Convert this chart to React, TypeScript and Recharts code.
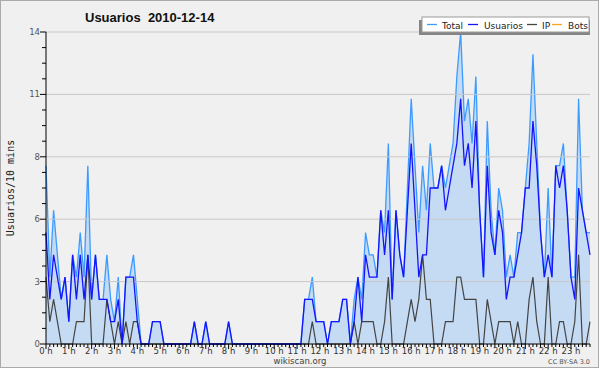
import React from 'react';
import { ComposedChart, Area, Line, XAxis, YAxis, ReferenceLine } from 'recharts';

const hourLabels = ['0 h','1 h','2 h','3 h','4 h','5 h','6 h','7 h','8 h','9 h','10 h','11 h','12 h','13 h','14 h','15 h','16 h','17 h','18 h','19 h','20 h','21 h','22 h','23 h'];

const total = [
  8,3,6,4,2,3,1,4,3,5,3,8,2,4,2,2,4,2,1,3,0,3,3,4,2,0,0,0,1,1,1,0,0,0,0,0,0,0,0,1,0,0,1,0,0,0,0,0,1,0,
  0,0,0,0,0,0,0,0,0,0,0,0,0,0,0,0,0,0,2,2,3,1,1,1,0,1,1,1,2,2,0,2,3,2,5,4,4,3,6,5,9,2,6,4,3,7,11,8,5,8,
  6,9,7,7,8,7,8,9,12,14,10,11,9,12,6,3,10,6,4,7,6,3,4,3,5,5,7,9,13,9,5,3,7,3,8,8,9,6,3,3,11,6,5,5
];
const usuarios = [
  5,2,4,3,2,3,1,4,2,4,2,4,2,4,2,2,2,1,1,2,0,3,3,3,1,0,0,0,1,1,1,0,0,0,0,0,0,0,0,1,0,0,1,0,0,0,0,0,1,0,
  0,0,0,0,0,0,0,0,0,0,0,0,0,0,0,0,0,0,2,2,2,1,1,1,0,1,1,1,2,2,0,1,3,1,4,3,3,3,6,4,6,2,6,4,3,6,9,6,3,4,
  4,7,7,7,8,6,7,8,9,11,8,9,7,10,6,3,8,5,4,6,5,2,3,3,4,5,7,7,10,8,5,3,4,3,8,7,8,6,3,2,7,6,5,4
];
const ip = [
  3,1,2,1,0,0,0,0,1,1,1,4,0,0,0,0,2,1,0,1,0,1,0,1,1,0,0,0,0,0,0,0,0,0,0,0,0,0,0,0,0,0,0,0,0,0,0,0,0,0,
  0,0,0,0,0,0,0,0,0,0,0,0,0,0,0,0,0,0,0,0,1,0,0,0,0,0,0,0,0,0,0,1,0,1,1,1,1,0,0,1,3,0,0,0,0,1,2,1,2,4,
  2,2,0,0,0,1,1,1,3,3,2,2,2,2,0,0,2,1,0,1,1,1,1,0,1,0,0,2,3,1,0,0,3,0,0,1,1,0,0,1,4,0,0,1
];

const yMajorTicks = [0, 2.8, 5.6, 8.4, 11.2, 14];
const yTicks = [0,0.7,1.4,2.1,2.8,3.5,4.2,4.9,5.6,6.3,7,7.7,8.4,9.1,9.8,10.5,11.2,11.9,12.6,13.3,14];

const series = [
  { key: 'total', name: 'Total', color: '#3d9bff' },
  { key: 'usuarios', name: 'Usuarios', color: '#1414ff' },
  { key: 'ip', name: 'IP', color: '#444444' },
  { key: 'bots', name: 'Bots', color: '#ffa31a' },
];

const data = total.map((t, i) => ({ i, total: t, usuarios: usuarios[i], ip: ip[i] }));
const xTicks = total.map((_, i) => i);

const FONT = 'DejaVu Sans, Verdana, sans-serif';

const YTick = (props: any) => {
  const { x, y, payload } = props;
  const major = yMajorTicks.includes(payload.value);
  return (
    <g>
      <line x1={x - (major ? 6 : 4)} x2={x} y1={y} y2={y} stroke="#000" strokeWidth={1} />
      {major && (
        <text x={x - 6} y={y} dy={3} textAnchor="end" fontSize={8.5} fill="#555" fontFamily={FONT}>
          {Math.round(payload.value)}
        </text>
      )}
    </g>
  );
};

const XTick = (props: any) => {
  const { x, y, payload } = props;
  const major = payload.value % 6 === 0;
  return (
    <g>
      <line x1={x} x2={x} y1={y} y2={y + (major ? 5 : 3)} stroke="#000" strokeWidth={1} />
      {major && (
        <text x={x} y={y + 10} textAnchor="middle" fontSize={8.5} fill="#333" fontFamily={FONT}>
          {hourLabels[payload.value / 6]}
        </text>
      )}
    </g>
  );
};

const legendPos = [
  { lx: 427, tx: 442 },
  { lx: 468, tx: 484 },
  { lx: 527, tx: 542 },
  { lx: 552, tx: 568 },
];

export default function App() {
  return (
    <div style={{ position: 'absolute', left: 0, top: 0, width: 600, height: 370, background: '#ffffff' }}>
      <div style={{ position: 'absolute', left: 0, top: 0, width: 599, height: 368, boxSizing: 'border-box', border: '1px solid #aaaaaa', background: '#f0f0f0' }} />
      <div style={{ position: 'absolute', left: 0, top: 0 }}>
        <ComposedChart width={600} height={370} data={data} margin={{ top: 32, right: 10, bottom: 0, left: 0 }}>
          <XAxis
            dataKey="i"
            type="number"
            domain={[0, 143]}
            ticks={xTicks}
            interval={0}
            height={26}
            tick={<XTick />}
            tickLine={false}
            tickSize={0}
            tickMargin={0}
            axisLine={{ stroke: '#000', strokeWidth: 1 }}
          />
          <YAxis
            type="number"
            domain={[0, 14]}
            ticks={yTicks}
            interval={0}
            width={46}
            tick={<YTick />}
            tickLine={false}
            tickSize={0}
            tickMargin={0}
            axisLine={{ stroke: '#000', strokeWidth: 1 }}
          />
          {yMajorTicks.slice(1).map((v) => (
            <ReferenceLine key={v} y={v} stroke="#c8c8c8" strokeWidth={1} />
          ))}
          <Area
            type="linear"
            dataKey="total"
            stroke={series[0].color}
            strokeWidth={1.3}
            fill={series[0].color}
            fillOpacity={0.24}
            isAnimationActive={false}
            dot={false}
            activeDot={false}
          />
          <Line type="linear" dataKey="ip" stroke={series[2].color} strokeWidth={1.2} dot={false} activeDot={false} isAnimationActive={false} />
          <Line type="linear" dataKey="usuarios" stroke={series[1].color} strokeWidth={1.3} dot={false} activeDot={false} isAnimationActive={false} />
        </ComposedChart>
      </div>
      <svg width={600} height={370} style={{ position: 'absolute', left: 0, top: 0, pointerEvents: 'none' }}>
        <text x={85} y={22} fontSize={13} fontWeight="bold" fill="#111" fontFamily="Liberation Sans, Arial, sans-serif">
          Usuarios{'\u00a0\u00a0'}2010-12-14
        </text>
        <text transform="translate(14,188) rotate(-90)" textAnchor="middle" fontSize={10} fill="#222" fontFamily="DejaVu Sans Mono, monospace">
          Usuarios/10 mins
        </text>
        <text x={300} y={364} textAnchor="middle" fontSize={8.5} fill="#444" fontFamily={FONT}>wikiscan.org</text>
        <text x={590} y={364} textAnchor="end" fontSize={6.5} fill="#555" fontFamily={FONT}>CC BY-SA 3.0</text>
        <rect x={419} y={20} width={171} height={15} fill="#858585" />
        <rect x={422} y={17} width={167} height={15} fill="#ffffff" stroke="#9a9a9a" strokeWidth={1} />
        {series.map((s, k) => (
          <g key={s.key}>
            <line x1={legendPos[k].lx} x2={legendPos[k].lx + 10} y1={24.5} y2={24.5} stroke={s.color} strokeWidth={1.3} />
            <text x={legendPos[k].tx} y={28.5} fontSize={9} fill="#222" fontFamily={FONT}>{s.name}</text>
          </g>
        ))}
      </svg>
    </div>
  );
}
